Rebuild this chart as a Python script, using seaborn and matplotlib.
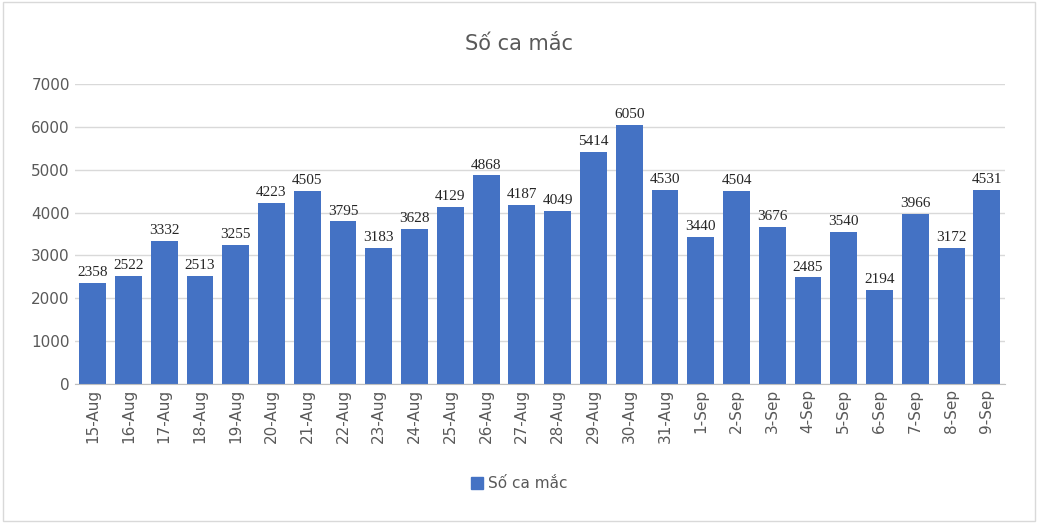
import matplotlib
matplotlib.use("Agg")
import matplotlib.pyplot as plt
import seaborn as sns
import pandas as pd

dates = ["15-Aug", "16-Aug", "17-Aug", "18-Aug", "19-Aug", "20-Aug", "21-Aug", "22-Aug",
         "23-Aug", "24-Aug", "25-Aug", "26-Aug", "27-Aug", "28-Aug", "29-Aug", "30-Aug",
         "31-Aug", "1-Sep", "2-Sep", "3-Sep", "4-Sep", "5-Sep", "6-Sep", "7-Sep", "8-Sep", "9-Sep"]
cases = [2358, 2522, 3332, 2513, 3255, 4223, 4505, 3795, 3183, 3628, 4129, 4868, 4187,
         4049, 5414, 6050, 4530, 3440, 4504, 3676, 2485, 3540, 2194, 3966, 3172, 4531]

df = pd.DataFrame({"date": dates, "cases": cases})
color = "#4472C4"

fig = plt.figure(figsize=(10.38, 5.23), dpi=100)
ax = fig.add_axes([0.072, 0.266, 0.896, 0.573])
sns.barplot(data=df, x="date", y="cases", color=color, width=0.75, saturation=1, ax=ax)

ax.set_ylim(0, 7000)
ax.set_yticks(range(0, 7001, 1000))
ax.set_xlim(-0.5, len(dates) - 0.5)
ax.grid(axis="y", color="#d9d9d9", linewidth=1)
ax.set_axisbelow(True)
for s in ["top", "right", "left"]:
    ax.spines[s].set_visible(False)
ax.spines["bottom"].set_color("#bfbfbf")
ax.tick_params(length=0, labelsize=11, labelcolor="#595959")
ax.tick_params(axis="x", rotation=90)
ax.set_xlabel("")
ax.set_ylabel("")

for i, v in enumerate(cases):
    ax.text(i, v + 90, str(v), ha="center", va="bottom", fontsize=11,
            family="Liberation Serif", color="#262626")

fig.suptitle("Số ca mắc", y=0.935, fontsize=15, color="#595959")
handle = plt.Rectangle((0, 0), 1, 1, color=color)
fig.legend([handle], ["Số ca mắc"], loc="center", bbox_to_anchor=(0.5, 0.075),
           frameon=False, fontsize=11, handlelength=0.8, handleheight=0.8,
           handletextpad=0.3, labelcolor="#595959")

fig.patches.append(plt.Rectangle((0.003, 0.004), 0.994, 0.992, transform=fig.transFigure,
                                 fill=False, edgecolor="#d9d9d9", linewidth=1))
fig.savefig("out.png", dpi=100)
